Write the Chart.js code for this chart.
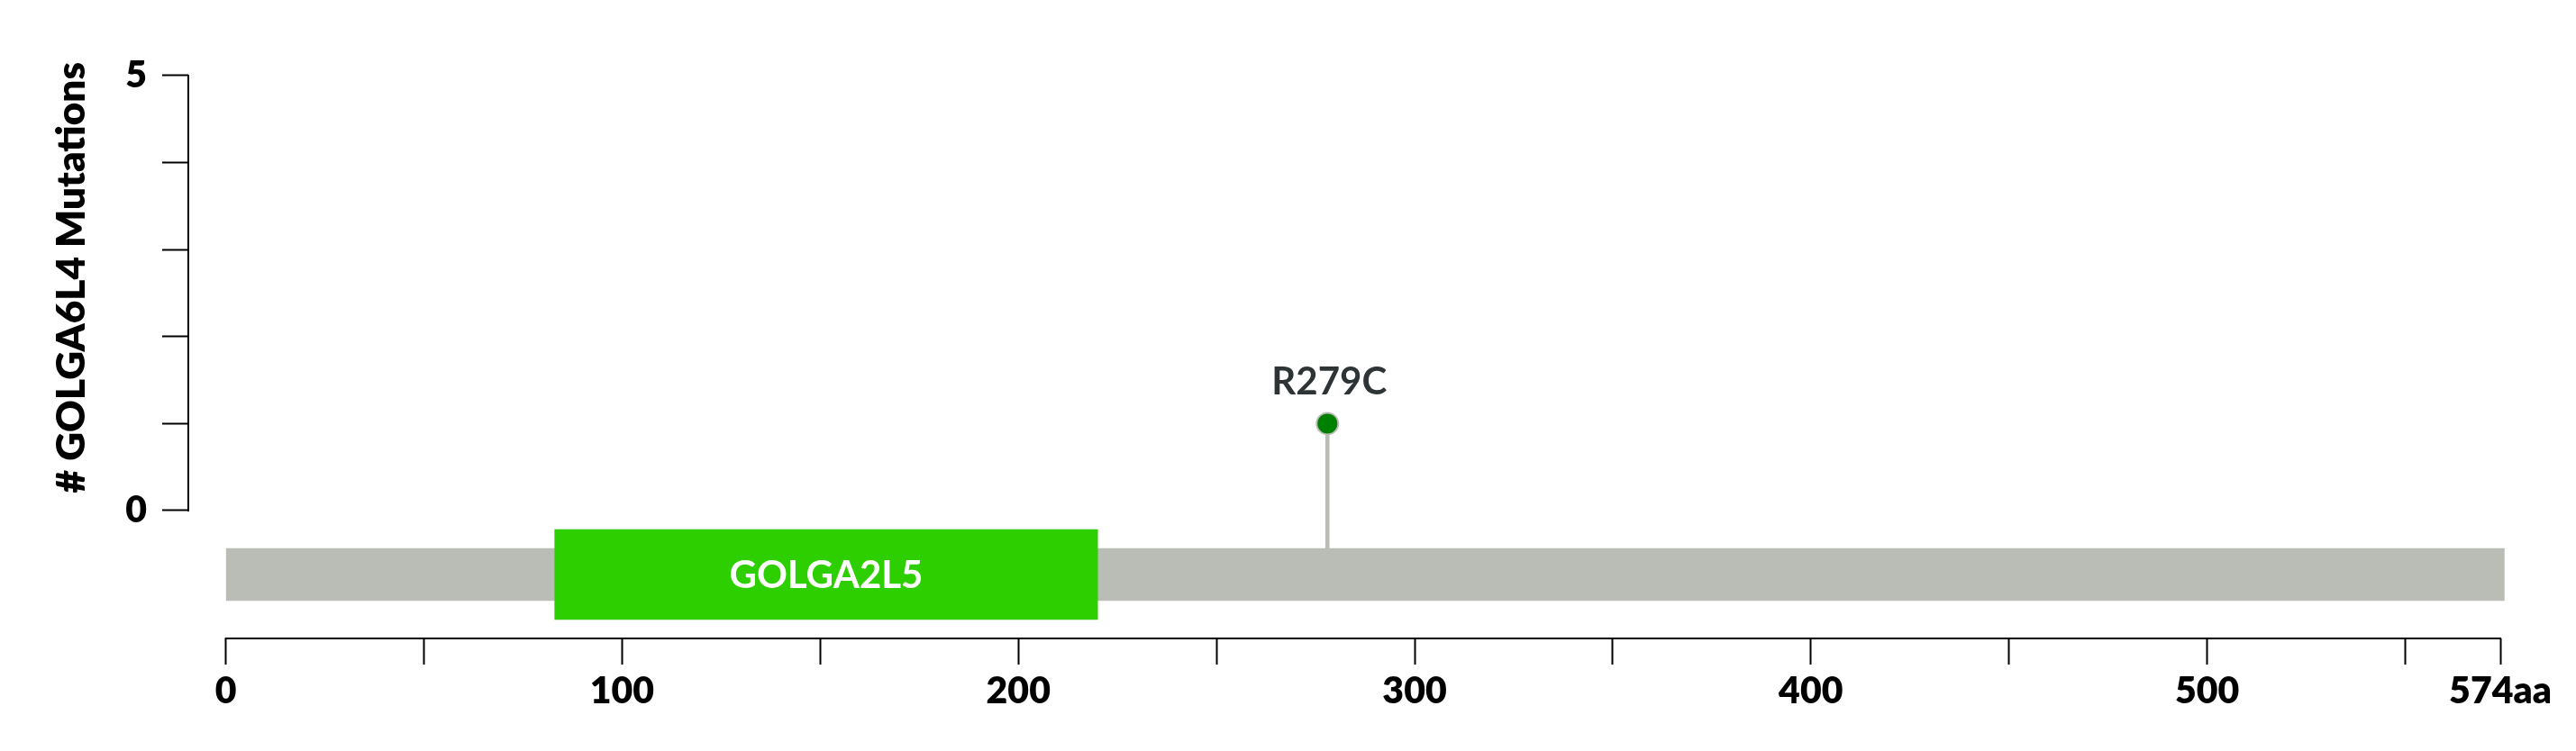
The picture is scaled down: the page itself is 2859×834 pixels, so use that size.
<!DOCTYPE html>
<html>
<head>
<meta charset="utf-8">
<script src="https://cdn.jsdelivr.net/npm/chart.js@4.4.1/dist/chart.umd.min.js"></script>
<style>
  body { margin: 0; background: #fff; }
  #wrap { width: 2859px; height: 834px; }
</style>
</head>
<body>
<div id="wrap"><canvas id="myChart" width="2859" height="834"></canvas></div>
<script>
// protein / domain / mutation data
const proteinLength = 574;
const backboneRange = [0, 575];
const domainNames = ["GOLGA2L5"];
const domainStarts = [83];
const domainEnds = [220];
const mutationLabels = ["R279C"];
const mutationPositions = [278];
const mutationCounts = [1];
const xTickValues = [0, 50, 100, 150, 200, 250, 300, 350, 400, 450, 500, 550, 574];
const yTickValues = [0, 1, 2, 3, 4, 5];

const FONT = "Lato";
const trackY = -0.735; // centre line of the protein track, in y units

/*********************assi e etichette ***********************/
const extras = {
  id: "extras",
  beforeDatasetsDraw(chart) {
    const { ctx } = chart;
    const x = chart.scales.x;
    const y = chart.scales.y;
    ctx.save();
    ctx.strokeStyle = "#000";
    ctx.lineWidth = 2;
    ctx.beginPath();
    ctx.moveTo(x.getPixelForValue(xTickValues[0]) - 1, x.top);
    ctx.lineTo(x.getPixelForValue(proteinLength) + 1, x.top);
    ctx.moveTo(y.right, y.getPixelForValue(yTickValues[0]) + 1);
    ctx.lineTo(y.right, y.getPixelForValue(yTickValues[yTickValues.length - 1]) - 1);
    ctx.stroke();
    ctx.restore();
  },
  afterDatasetsDraw(chart) {
    const { ctx } = chart;
    const x = chart.scales.x;
    const y = chart.scales.y;
    ctx.save();
    ctx.textAlign = "center";
    ctx.textBaseline = "alphabetic";

    // domain names
    ctx.fillStyle = "#fff";
    ctx.font = "bold 42px " + FONT;
    domainNames.forEach(function (name, i) {
      const cx = (x.getPixelForValue(domainStarts[i]) + x.getPixelForValue(domainEnds[i])) / 2;
      const cy = y.getPixelForValue(trackY);
      ctx.fillText(name, cx, cy + 15);
    });

    // mutation labels
    ctx.fillStyle = "#2e3436";
    ctx.font = "bold 42px " + FONT;
    mutationLabels.forEach(function (lab, i) {
      const px = x.getPixelForValue(mutationPositions[i]);
      const py = y.getPixelForValue(mutationCounts[i]);
      ctx.fillText(lab, px + 2, py - 32);
    });
    ctx.restore();
  },
};

const ctx = document.getElementById("myChart");
const myChart = new Chart(ctx, {
  type: "scatter",
  data: {
    datasets: [
      {
        type: "scatter",
        data: mutationPositions.map((p, i) => ({ x: p, y: mutationCounts[i] })),
        pointRadius: 12,
        pointBorderWidth: 2,
        backgroundColor: "#008000",
        borderColor: "#babdb6",
        order: 0,
      },
      {
        type: "bar",
        indexAxis: "y",
        data: domainStarts.map((s, i) => ({ x: [s, domainEnds[i]], y: trackY })),
        backgroundColor: "#2dcf00",
        barThickness: 100,
        grouped: false,
        clip: false,
        order: 1,
      },
      {
        type: "bar",
        indexAxis: "y",
        data: [{ x: backboneRange, y: trackY }],
        backgroundColor: "#babdb6",
        barThickness: 58,
        grouped: false,
        clip: false,
        order: 2,
      },
      {
        type: "bar",
        indexAxis: "x",
        data: mutationPositions.map((p, i) => ({ x: p, y: [trackY, mutationCounts[i]] })),
        backgroundColor: "#babdb6",
        barThickness: 4,
        grouped: false,
        order: 3,
      },
    ],
  },
  options: {
    responsive: false,
    animation: false,
    events: [],
    layout: { padding: { top: 69, right: 84, bottom: 0, left: 0 } },
    plugins: {
      legend: { display: false },
      tooltip: { enabled: false },
    },
    scales: {
      x: {
        type: "linear",
        offset: false,
        min: -9.48,
        max: proteinLength,
        afterBuildTicks: function (scale) {
          scale.ticks = xTickValues.map((v) => ({ value: v }));
        },
        afterFit: function (scale) {
          scale.height = 125;
        },
        border: { display: false },
        grid: {
          offset: false,
          drawOnChartArea: false,
          drawTicks: true,
          tickLength: 29,
          tickColor: "#000",
          tickWidth: 2,
        },
        ticks: {
          autoSkip: false,
          maxRotation: 0,
          padding: 5,
          color: "#000",
          font: { family: FONT, weight: "800", size: 41 },
          callback: function (v) {
            if (v === proteinLength) return v + "aa";
            return v % 100 === 0 ? v : "";
          },
        },
      },
      y: {
        type: "linear",
        offset: false,
        min: -1.47,
        max: 5.155,
        afterBuildTicks: function (scale) {
          scale.ticks = yTickValues.map((v) => ({ value: v }));
        },
        afterFit: function (scale) {
          scale.width = 209;
        },
        border: { display: false },
        grid: {
          offset: false,
          drawOnChartArea: false,
          drawTicks: true,
          tickLength: 29,
          tickColor: "#000",
          tickWidth: 2,
        },
        ticks: {
          autoSkip: false,
          padding: 17,
          color: "#000",
          font: { family: FONT, weight: "800", size: 41 },
          callback: function (v) {
            return v === 0 || v === 5 ? v : "";
          },
        },
        title: {
          display: true,
          text: "# GOLGA6L4 Mutations",
          align: "end",
          color: "#000",
          font: { family: FONT, weight: "800", size: 44 },
          padding: { top: 53, bottom: 0 },
        },
      },
    },
  },
  plugins: [extras],
});
</script>
</body>
</html>
